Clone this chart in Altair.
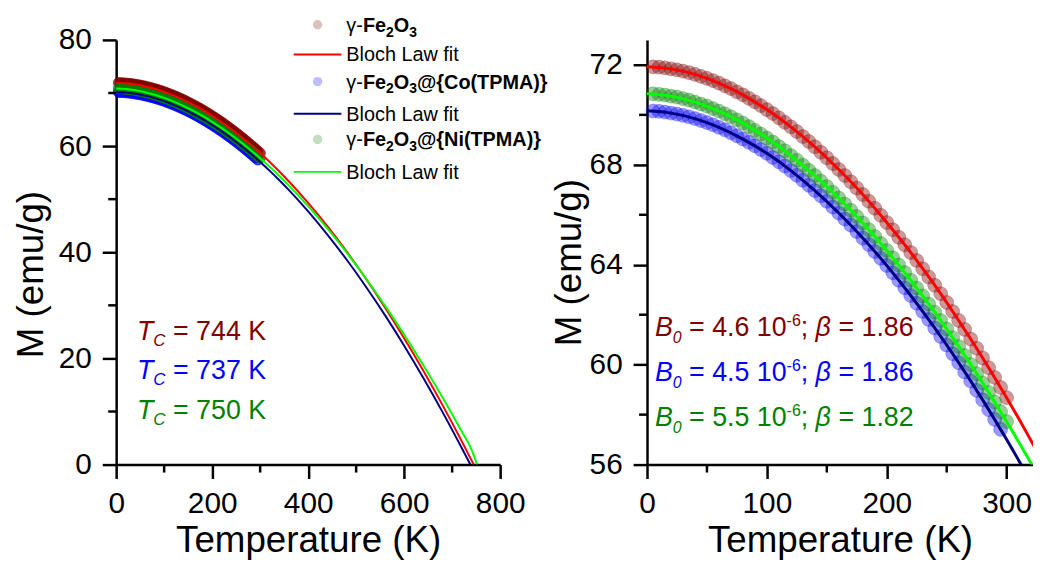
import altair as alt
import pandas as pd

FONT = "Liberation Sans"

# ---------------- data ----------------
T_fe = [5, 10, 15, 20, 25, 30, 35, 40, 45, 50, 55, 60, 65, 70, 75, 80, 85, 90, 95, 100,
        105, 110, 115, 120, 125, 130, 135, 140, 145, 150, 155, 160, 165, 170, 175, 180, 185, 190, 195, 200,
        205, 210, 215, 220, 225, 230, 235, 240, 245, 250, 255, 260, 265, 270, 275, 280, 285, 290, 295, 300]
M_fe = [71.92, 71.91, 71.88, 71.84, 71.80, 71.75, 71.69, 71.62, 71.54, 71.46,
        71.37, 71.27, 71.16, 71.05, 70.92, 70.80, 70.66, 70.52, 70.37, 70.21,
        70.05, 69.88, 69.70, 69.52, 69.33, 69.13, 68.93, 68.72, 68.50, 68.28,
        68.05, 67.81, 67.57, 67.32, 67.07, 66.81, 66.54, 66.26, 65.98, 65.69,
        65.40, 65.10, 64.80, 64.49, 64.17, 63.84, 63.51, 63.18, 62.84, 62.49,
        62.13, 61.77, 61.41, 61.03, 60.66, 60.27, 59.88, 59.49, 59.09, 58.68]

T_co = [5, 10, 15, 20, 25, 30, 35, 40, 45, 50, 55, 60, 65, 70, 75, 80, 85, 90, 95, 100,
        105, 110, 115, 120, 125, 130, 135, 140, 145, 150, 155, 160, 165, 170, 175, 180, 185, 190, 195, 200,
        205, 210, 215, 220, 225, 230, 235, 240, 245, 250, 255, 260, 265, 270, 275, 280, 285, 290, 295]
M_co = [70.15, 70.14, 70.11, 70.07, 70.03, 69.98, 69.92, 69.85, 69.77, 69.69,
        69.60, 69.50, 69.40, 69.28, 69.16, 69.03, 68.90, 68.76, 68.61, 68.46,
        68.29, 68.12, 67.95, 67.77, 67.58, 67.38, 67.18, 66.97, 66.76, 66.54,
        66.31, 66.07, 65.83, 65.59, 65.33, 65.07, 64.81, 64.53, 64.26, 63.97,
        63.68, 63.38, 63.08, 62.77, 62.46, 62.13, 61.81, 61.47, 61.13, 60.79,
        60.44, 60.08, 59.71, 59.35, 58.97, 58.59, 58.20, 57.81, 57.41]

T_ni = [5, 10, 15, 20, 25, 30, 35, 40, 45, 50, 55, 60, 65, 70, 75, 80, 85, 90, 95, 100,
        105, 110, 115, 120, 125, 130, 135, 140, 145, 150, 155, 160, 165, 170, 175, 180, 185, 190, 195, 200,
        205, 210, 215, 220, 225, 230, 235, 240, 245, 250, 255, 260, 265, 270, 275, 280, 285, 290, 295, 300]
M_ni = [70.84, 70.82, 70.79, 70.75, 70.71, 70.65, 70.59, 70.51, 70.43, 70.35,
        70.25, 70.15, 70.04, 69.92, 69.80, 69.67, 69.53, 69.38, 69.23, 69.07,
        68.91, 68.73, 68.56, 68.37, 68.18, 67.98, 67.78, 67.57, 67.35, 67.13,
        66.90, 66.67, 66.43, 66.18, 65.93, 65.67, 65.40, 65.13, 64.85, 64.57,
        64.28, 63.99, 63.69, 63.38, 63.07, 62.75, 62.43, 62.10, 61.77, 61.43,
        61.08, 60.73, 60.37, 60.01, 59.64, 59.27, 58.89, 58.51, 58.12, 57.72]

# Bloch law fit curves
fitT_fe = [0, 20, 40, 60, 80, 100, 120, 140, 160, 180, 200, 220, 240, 260, 280, 300, 320, 340, 360,
           400, 440, 480, 520, 560, 600, 640, 680, 720, 740, 745]
fitM_fe = [71.93, 71.84, 71.62, 71.27, 70.80, 70.21, 69.52, 68.72, 67.81, 66.81, 65.69, 64.49, 63.18,
           61.77, 60.27, 58.68, 56.99, 55.20, 53.33, 49.30, 44.91, 40.16, 35.05, 29.60, 23.81, 17.68,
           11.20, 4.39, 0.85, 0.0]
fitT_co = [0, 20, 40, 60, 80, 100, 120, 140, 160, 180, 200, 220, 240, 260, 280, 300, 320, 340, 360,
           400, 440, 480, 520, 560, 600, 640, 680, 720, 730, 738]
fitM_co = [70.16, 70.07, 69.85, 69.50, 69.03, 68.46, 67.77, 66.97, 66.07, 65.07, 63.97, 62.77, 61.47,
           60.08, 58.59, 57.00, 55.33, 53.56, 51.70, 47.70, 43.34, 38.63, 33.56, 28.15, 22.40, 16.31,
           9.88, 3.12, 1.39, 0.0]
fitT_ni = [0, 20, 40, 60, 80, 100, 120, 140, 160, 180, 200, 220, 240, 260, 280, 300, 320, 340, 360,
           400, 440, 480, 520, 560, 600, 640, 680, 720, 740, 752]
fitM_ni = [70.85, 70.75, 70.51, 70.15, 69.67, 69.07, 68.37, 67.57, 66.67, 65.67, 64.57, 63.38, 62.10,
           60.73, 59.27, 57.72, 56.08, 54.36, 52.55, 48.68, 44.48, 39.96, 35.11, 29.95, 24.48, 18.70,
           12.62, 6.23, 2.92, 0.0]

scatter_T = [T_fe, T_co, T_ni]
scatter_M = [M_fe, M_co, M_ni]
fit_T = [fitT_fe, fitT_co, fitT_ni]
fit_M = [fitM_fe, fitM_co, fitM_ni]

legend_tails = ["", "@{Co(TPMA)}", "@{Ni(TPMA)}"]
fit_label = "Bloch Law fit"
Tc_values = [744, 737, 750]
B0_values = ["4.6", "4.5", "5.5"]
beta_values = ["1.86", "1.86", "1.82"]

left_x_ticks = [0, 200, 400, 600, 800]
left_x_minor = [100, 300, 500, 700]
left_y_ticks = [0, 20, 40, 60, 80]
left_y_minor = [10, 30, 50, 70]
right_x_ticks = [0, 100, 200, 300]
right_x_minor = [50, 150, 250]
right_y_ticks = [56, 60, 64, 68, 72]
right_y_minor = [58, 62, 66, 70]

scatter_colors = ["#800000", "#0000FF", "#008000"]
fit_colors = ["#FF0000", "#000080", "#00FF00"]
text_colors = ["#800000", "#0000FF", "#008000"]

H = 428
one = pd.DataFrame({"k": [0]})


def seg(text, x, y, size, color="black", weight="normal", style="normal"):
    return alt.Chart(one).mark_text(
        text=text, align="left", baseline="alphabetic", font=FONT, fontSize=size,
        fontWeight=weight, fontStyle=style, color=color
    ).encode(x=alt.value(x), y=alt.value(y))


def axes(xvals, yvals, title_x, title_y):
    common = dict(labelFlush=False, labelOverlap=False, tickSize=14, tickWidth=2.5,
                  domainWidth=2.5, labelFontSize=30, titleFontSize=37, titleFontWeight="normal",
                  labelFont=FONT, titleFont=FONT, labelColor="black", titleColor="black",
                  tickColor="black", domainColor="black", grid=False, format="d")
    ax = alt.Axis(values=xvals, title="Temperature (K)", labelPadding=10, titlePadding=5, **common)
    ay = alt.Axis(values=yvals, title="M (emu/g)", labelPadding=11, titleAngle=270,
                  titleBaseline="alphabetic", titleAlign="center", titleX=title_x, titleY=title_y,
                  **common)
    return ax, ay


def panel(xdom, ydom, xvals, yvals, xminor, yminor, W, msize, fop, sop, lw, title_x, title_y, extra):
    xs = alt.Scale(domain=xdom, nice=False, zero=False)
    ys = alt.Scale(domain=ydom, nice=False, zero=False)
    ax, ay = axes(xvals, yvals, title_x, title_y)
    X = lambda: alt.X("T:Q", scale=xs, axis=ax)
    Y = lambda: alt.Y("M:Q", scale=ys, axis=ay)
    layers = []
    for i in range(3):
        df = pd.DataFrame({"T": scatter_T[i], "M": scatter_M[i]})
        layers.append(alt.Chart(df).mark_circle(
            size=msize, fill=scatter_colors[i], stroke=scatter_colors[i],
            fillOpacity=fop, strokeOpacity=sop, strokeWidth=0.8
        ).encode(x=X(), y=Y()))
    for i in range(3):
        df = pd.DataFrame({"T": fit_T[i], "M": fit_M[i]})
        layers.append(alt.Chart(df).mark_line(
            color=fit_colors[i], strokeWidth=lw, clip=True, interpolate="monotone"
        ).encode(x=X(), y=Y()))
    layers.append(alt.Chart(pd.DataFrame({"T": xminor})).mark_rule(color="black", strokeWidth=2.5).encode(
        x=X(), y=alt.value(H), y2=alt.value(H + 8)))
    layers.append(alt.Chart(pd.DataFrame({"M": yminor})).mark_rule(color="black", strokeWidth=2.5).encode(
        y=Y(), x=alt.value(0), x2=alt.value(-8)))
    return alt.layer(*layers, *extra).properties(width=W, height=H)


# ---------- left panel annotations ----------
left_extra = []
legend_rows = [-15.3, 14.7, 42.0, 74.3, 100.3, 133.0]
for i in range(3):
    yc = legend_rows[2 * i]
    b = yc + 7
    left_extra.append(alt.Chart(one).mark_circle(
        size=90, fill=scatter_colors[i], fillOpacity=0.25, strokeOpacity=0
    ).encode(x=alt.value(203), y=alt.value(yc)))
    left_extra += [
        seg("γ-", 232, b, 20),
        seg("Fe", 248.7, b, 20, weight="bold"),
        seg("2", 272.0, b + 5, 14, weight="bold"),
        seg("O", 279.8, b, 20, weight="bold"),
        seg("3", 295.4, b + 5, 14, weight="bold"),
    ]
    if legend_tails[i]:
        left_extra.append(seg(legend_tails[i], 303.2, b, 20, weight="bold"))
    yl = legend_rows[2 * i + 1]
    left_extra.append(alt.Chart(one).mark_rule(color=fit_colors[i], strokeWidth=2).encode(
        x=alt.value(179), x2=alt.value(227), y=alt.value(yl)))
    left_extra.append(seg(fit_label, 232, yl + 7, 20))

tc_rows = [302, 342, 382]
for i in range(3):
    b = tc_rows[i]
    c = text_colors[i]
    left_extra += [
        seg("T", 21, b, 27, color=c, style="italic"),
        seg("C", 37.5, b + 6, 17, color=c, style="italic"),
        seg("= %d K" % Tc_values[i], 57.3, b, 27, color=c),
    ]

# ---------- right panel annotations ----------
right_extra = []
b_rows = [298.7, 343.7, 388.7]
for i in range(3):
    b = b_rows[i]
    c = text_colors[i]
    right_extra += [
        seg("B", 8, b, 27, color=c, style="italic"),
        seg("0", 26.0, b + 7, 16, color=c, style="italic"),
        seg("= %s 10" % B0_values[i], 42.4, b, 27, color=c),
        seg("-6", 140.7, b - 10, 16, color=c),
        seg(";", 154.9, b, 27, color=c),
        seg("β", 169.9, b, 27, color=c, style="italic"),
        seg("= %s" % beta_values[i], 192.9, b, 27, color=c),
    ]

left = panel([0, 800], [0, 80], left_x_ticks, left_y_ticks, left_x_minor, left_y_minor,
             387, 110, 0.75, 0.8, 2, -74, 236, left_extra)
right = panel([0, 322], [56, 73], right_x_ticks, right_y_ticks, right_x_minor, right_y_minor,
              389, 200, 0.4, 0.3, 3, -67, 224, right_extra)

chart = alt.hconcat(left, right, spacing=148, bounds="flush").properties(
    padding={"left": 5, "top": 5, "right": 0, "bottom": 0}
).configure_view(stroke=None)

chart.save("out.html", embed_options={"renderer": "svg", "actions": False})
